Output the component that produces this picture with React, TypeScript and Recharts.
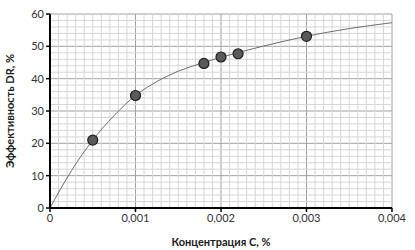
import {
  ComposedChart,
  Line,
  Scatter,
  XAxis,
  YAxis,
  CartesianGrid,
  ReferenceLine,
} from 'recharts'

// measured points
const concentration = [0.0005, 0.001, 0.0018, 0.002, 0.0022, 0.003]
const efficiency = [21, 34.8, 44.7, 46.7, 47.7, 53.1]

// trend curve
const curveX = [0, 0.00025, 0.0005, 0.00075, 0.001, 0.00125, 0.0015, 0.00175, 0.002, 0.0025, 0.003, 0.0035, 0.004]
const curveY = [0, 11.5, 21, 28.6, 34.8, 39.1, 42.3, 44.6, 46.6, 50.1, 53.1, 55.5, 57.3]

const xTicks = [0, 0.001, 0.002, 0.003, 0.004]
const yTicks = [0, 10, 20, 30, 40, 50, 60]
// minor grid, majors left out
const xMinor = Array.from({ length: 41 }, (_, i) => i).filter((i) => i % 10 !== 0).map((i) => i / 10000)
const yMinor = Array.from({ length: 31 }, (_, i) => i * 2).filter((v) => v % 10 !== 0)

const points = concentration.map((c, i) => ({ c, dr: efficiency[i] }))
const curve = curveX.map((c, i) => ({ c, dr: curveY[i] }))

const font = 'Lato, "Open Sans", sans-serif'
const fmt = (v: number) => (v === 0 ? '0' : v.toFixed(3).replace('.', ','))

export default function App() {
  return (
    <div style={{ position: 'absolute', left: 0, top: 0, background: '#fff' }}>
      <ComposedChart width={415} height={250} margin={{ top: 14, right: 23, left: 0, bottom: 0 }}>
        <CartesianGrid stroke="#a0a0a0" strokeWidth={1} horizontalValues={yTicks} verticalValues={xTicks} />
        {xMinor.map((v) => (
          <ReferenceLine key={'x' + v} x={v} stroke="#d6d6d6" strokeWidth={1} ifOverflow="hidden" />
        ))}
        {yMinor.map((v) => (
          <ReferenceLine key={'y' + v} y={v} stroke="#d6d6d6" strokeWidth={1} ifOverflow="hidden" />
        ))}
        <XAxis
          dataKey="c"
          type="number"
          domain={[0, 0.004]}
          ticks={xTicks}
          tickFormatter={fmt}
          height={42}
          axisLine={{ stroke: '#000', strokeWidth: 2 }}
          tickLine={{ stroke: '#000', strokeWidth: 1.5 }}
          tickSize={4}
          tick={{ fontSize: 11, fill: '#333', fontFamily: font }}
          label={{
            value: 'Концентрация C, %',
            position: 'insideBottom',
            offset: 4,
            style: { fontSize: 11, fontWeight: 700, fill: '#1a1a1a', fontFamily: font },
          }}
        />
        <YAxis
          type="number"
          domain={[0, 60]}
          ticks={yTicks}
          width={50}
          axisLine={{ stroke: '#000', strokeWidth: 2 }}
          tickLine={{ stroke: '#000', strokeWidth: 1.5 }}
          tickSize={4}
          tick={{ fontSize: 11, fill: '#333', fontFamily: font }}
          label={{
            value: 'Эффективность DR, %',
            angle: -90,
            position: 'insideLeft',
            offset: 10,
            style: { textAnchor: 'middle', fontSize: 11, fontWeight: 700, fill: '#1a1a1a', fontFamily: font },
          }}
        />
        <Line
          data={curve}
          dataKey="dr"
          type="monotone"
          stroke="#6e6e6e"
          strokeWidth={1}
          dot={false}
          isAnimationActive={false}
        />
        <Scatter
          data={points}
          dataKey="dr"
          fill="#5a5a5a"
          shape={(p: any) => <circle cx={p.cx} cy={p.cy} r={5} fill="#5a5a5a" stroke="#1e1e1e" strokeWidth={1.2} />}
          isAnimationActive={false}
        />
      </ComposedChart>
    </div>
  )
}
